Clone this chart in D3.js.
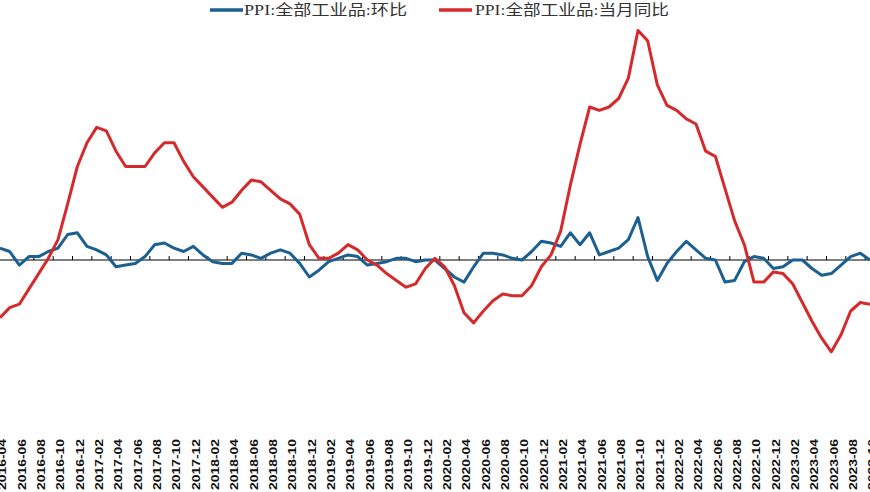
<!DOCTYPE html>
<html>
<head>
<meta charset="utf-8">
<script src="https://cdn.jsdelivr.net/npm/d3@7"></script>
<style>
html,body{margin:0;padding:0;background:#fff;}
svg{display:block;}
</style>
</head>
<body>
<svg id="chart" width="870" height="492"></svg>
<script>
// ---- data ----
const startMonth = "2016-04";
const endMonth = "2023-10";
const seriesNames = ["PPI:全部工业品:环比", "PPI:全部工业品:当月同比"];
// PPI month-on-month (%), 2016-04 .. 2023-10
const momValues = [
  0.7, 0.5, -0.3, 0.2, 0.2, 0.5, 0.7, 1.5, 1.6,
  0.8, 0.6, 0.3, -0.4, -0.3, -0.2, 0.2, 0.9, 1.0, 0.7, 0.5, 0.8,
  0.3, -0.1, -0.2, -0.2, 0.4, 0.3, 0.1, 0.4, 0.6, 0.4, -0.2, -1.0,
  -0.6, -0.1, 0.1, 0.3, 0.2, -0.3, -0.2, -0.1, 0.1, 0.1, -0.1, 0.0,
  0.0, -0.5, -1.0, -1.3, -0.4, 0.4, 0.4, 0.3, 0.1, 0.0, 0.5, 1.1,
  1.0, 0.8, 1.6, 0.9, 1.6, 0.3, 0.5, 0.7, 1.2, 2.5, 0.2, -1.2,
  -0.2, 0.5, 1.1, 0.6, 0.1, 0.0, -1.3, -1.2, -0.1, 0.2, 0.1, -0.5,
  -0.4, 0.0, 0.0, -0.5, -0.9, -0.8, -0.3, 0.2, 0.4, 0.0
];
// PPI year-on-year (%), 2016-04 .. 2023-10
const yoyValues = [
  -3.4, -2.8, -2.6, -1.7, -0.8, 0.1, 1.2, 3.3, 5.5,
  6.9, 7.8, 7.6, 6.4, 5.5, 5.5, 5.5, 6.3, 6.9, 6.9, 5.8, 4.9,
  4.3, 3.7, 3.1, 3.4, 4.1, 4.7, 4.6, 4.1, 3.6, 3.3, 2.7, 0.9,
  0.1, 0.1, 0.4, 0.9, 0.6, 0.0, -0.3, -0.8, -1.2, -1.6, -1.4, -0.5,
  0.1, -0.4, -1.5, -3.1, -3.7, -3.0, -2.4, -2.0, -2.1, -2.1, -1.5, -0.4,
  0.3, 1.7, 4.4, 6.8, 9.0, 8.8, 9.0, 9.5, 10.7, 13.5, 12.9, 10.3,
  9.1, 8.8, 8.3, 8.0, 6.4, 6.1, 4.2, 2.3, 0.9, -1.3, -1.3, -0.7,
  -0.8, -1.4, -2.5, -3.6, -4.6, -5.4, -4.4, -3.0, -2.5, -2.6
];
const colors = ["#1c5f91", "#d42a2c"];

// categories: every month from start to end
const fmt = d3.timeFormat("%Y-%m");
const parse = d3.timeParse("%Y-%m");
const categories = d3.timeMonth.range(parse(startMonth), d3.timeMonth.offset(parse(endMonth), 1)).map(fmt);
// tick labels: every second month
const tickLabels = categories.filter((d, i) => i % 2 === 0);

// ---- layout ----
const W = 870, H = 492;
const svg = d3.select("#chart");

const x = d3.scalePoint().domain(categories).range([0, W]);
const y = d3.scaleLinear().domain([-14, 15]).range([498, 5]);

// zero axis line
svg.append("line")
  .attr("x1", 0).attr("x2", W)
  .attr("y1", y(0)).attr("y2", y(0))
  .attr("stroke", "#000").attr("stroke-width", 1.2);

// tick marks between category pairs
const step = x.step();
svg.append("g").selectAll("line")
  .data(tickLabels)
  .join("line")
  .attr("x1", d => x(d) - step / 2)
  .attr("x2", d => x(d) - step / 2)
  .attr("y1", y(0)).attr("y2", y(0) - 4)
  .attr("stroke", "#000").attr("stroke-width", 1);

// x labels (rotated)
svg.append("g").selectAll("text")
  .data(tickLabels)
  .join("text")
  .attr("transform", d => `translate(${x(d) + 2.5},490) rotate(-90)`)
  .attr("dy", "0.35em")
  .attr("text-anchor", "start")
  .attr("font-family", "'Liberation Sans', Arial, sans-serif")
  .attr("font-weight", "bold")
  .attr("font-size", 11)
  .attr("fill", "#111")
  .attr("textLength", 51)
  .attr("lengthAdjust", "spacingAndGlyphs")
  .text(d => d);

// lines
const line = d3.line()
  .x((d, i) => x(categories[i]))
  .y(d => y(d));

svg.append("path")
  .datum(momValues)
  .attr("fill", "none")
  .attr("stroke", colors[0])
  .attr("stroke-width", 3)
  .attr("stroke-linejoin", "round")
  .attr("d", line);

svg.append("path")
  .datum(yoyValues)
  .attr("fill", "none")
  .attr("stroke", colors[1])
  .attr("stroke-width", 3)
  .attr("stroke-linejoin", "round")
  .attr("d", line);

// legend
const legendItems = [
  {name: seriesNames[0], color: colors[0], lx: 210, tx: 244, tl: 163},
  {name: seriesNames[1], color: colors[1], lx: 439, tx: 475, tl: 194}
];
const lg = svg.append("g");
legendItems.forEach(it => {
  lg.append("line")
    .attr("x1", it.lx).attr("x2", it.lx + 33)
    .attr("y1", 10).attr("y2", 10)
    .attr("stroke", it.color).attr("stroke-width", 3.5);
  lg.append("text")
    .attr("x", it.tx).attr("y", 15)
    .attr("font-family", "'Liberation Serif', 'Noto Sans CJK SC', serif")
    .attr("font-size", 15)
    .attr("fill", "#333")
    .attr("textLength", it.tl)
    .attr("lengthAdjust", "spacingAndGlyphs")
    .text(it.name);
});
</script>
</body>
</html>
